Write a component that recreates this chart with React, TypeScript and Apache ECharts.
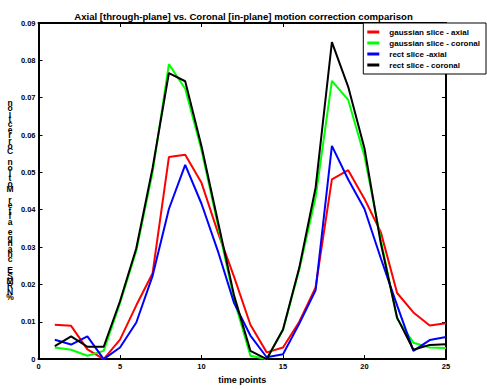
import React, { useEffect, useRef } from "react";
import * as echarts from "echarts";

const timePoints = [1, 2, 3, 4, 5, 6, 7, 8, 9, 10, 11, 12, 13, 14, 15, 16, 17, 18, 19, 20, 21, 22, 23, 24, 25];
const gaussianAxial = [0.0092, 0.0089, 0.0026, 0.0, 0.0052, 0.0144, 0.023, 0.0541, 0.0547, 0.0472, 0.034, 0.022, 0.0092, 0.0018, 0.0031, 0.01, 0.0192, 0.0481, 0.0506, 0.0429, 0.034, 0.0177, 0.0125, 0.009, 0.0096];
const gaussianCoronal = [0.0031, 0.0025, 0.0009, 0.0022, 0.015, 0.029, 0.05, 0.079, 0.0724, 0.056, 0.036, 0.016, 0.0009, 0.0, 0.0078, 0.024, 0.0433, 0.0745, 0.0694, 0.0543, 0.032, 0.0108, 0.0044, 0.0031, 0.003];
const rectAxial = [0.0052, 0.0039, 0.0061, 0.0, 0.0031, 0.0098, 0.0223, 0.0402, 0.052, 0.0416, 0.029, 0.015, 0.0063, 0.0005, 0.0013, 0.0095, 0.0184, 0.0571, 0.0481, 0.0402, 0.027, 0.0144, 0.0022, 0.0051, 0.0059];
const rectCoronal = [0.0035, 0.0061, 0.0033, 0.0033, 0.0155, 0.0297, 0.0512, 0.0766, 0.0744, 0.057, 0.037, 0.017, 0.0022, 0.0, 0.0079, 0.0245, 0.0459, 0.0849, 0.0729, 0.0564, 0.031, 0.0111, 0.0025, 0.0038, 0.004];

const seriesNames = ["gaussian slice - axial", "gaussian slice - coronal", "rect slice -axial", "rect slice - coronal"];
const seriesColors = ["#ff0000", "#00ff00", "#0000ff", "#000000"];
const seriesValues = [gaussianAxial, gaussianCoronal, rectAxial, rectCoronal];

const titleText = "Axial [through-plane] vs. Coronal [in-plane] motion correction comparison";
const xAxisTitle = "time points";
const yAxisTitle = "%NRMSE change after Motion Correction";

const FONT = "Liberation Sans, Arial, Helvetica, sans-serif";

export default function App() {
  const ref = useRef<HTMLDivElement>(null);
  useEffect(() => {
    if (!ref.current) return;
    const chart = echarts.init(ref.current, null, { renderer: "svg" });
    const yLabelStacked = yAxisTitle.split("").reverse().join("\n");
    const axisCommon = {
      type: "value" as const,
      axisLine: { show: true, onZero: false, lineStyle: { color: "#000", width: 2 } },
      axisTick: { show: true, inside: true, length: 4, lineStyle: { color: "#000", width: 1 } },
      splitLine: { show: false },
    };
    chart.setOption({
      animation: false,
      backgroundColor: "#fff",
      textStyle: { fontFamily: FONT },
      title: {
        text: titleText,
        left: "center",
        top: 6,
        textStyle: { fontSize: 9.6, fontWeight: "bold", color: "#000", fontFamily: FONT },
      },
      legend: {
        orient: "vertical",
        right: 1,
        top: 23,
        z: 10,
        backgroundColor: "#fff",
        borderColor: "#000",
        borderWidth: 1,
        padding: [4, 6, 4, 4],
        itemGap: 1,
        itemWidth: 12,
        itemHeight: 3,
        icon: "rect",
        textStyle: { fontSize: 8, fontWeight: "bold", color: "#000", fontFamily: FONT, lineHeight: 10, padding: [0, 0, 0, 5] },
        data: seriesNames,
      },
      grid: { left: 38.5, right: 41, top: 23, bottom: 24 },
      xAxis: [
        {
          ...axisCommon,
          position: "bottom",
          min: 0,
          max: 25,
          interval: 5,
          name: xAxisTitle,
          nameLocation: "middle",
          nameGap: 15,
          nameTextStyle: { fontSize: 9, fontWeight: "bold", color: "#000", fontFamily: FONT },
          axisLabel: { fontSize: 7.5, fontWeight: "bold", color: "#000", margin: 3, fontFamily: FONT },
        },
        {
          ...axisCommon,
          position: "top",
          min: 0,
          max: 25,
          interval: 5,
          axisLabel: { show: false },
        },
      ],
      yAxis: [
        {
          ...axisCommon,
          position: "left",
          min: 0,
          max: 0.09,
          interval: 0.01,
          axisLabel: {
            fontSize: 7.5,
            fontWeight: "bold",
            color: "#000",
            margin: 3,
            fontFamily: FONT,
            formatter: (v: number) => (Math.abs(v) < 1e-9 ? "0" : v.toFixed(2)),
          },
        },
        {
          ...axisCommon,
          position: "right",
          min: 0,
          max: 0.09,
          interval: 0.01,
          axisLabel: { show: false },
        },
      ],
      graphic: [
        {
          type: "text",
          x: 10,
          y: 100,
          style: {
            text: yLabelStacked,
            font: `bold 8.5px ${FONT}`,
            lineHeight: 5.4,
            fill: "#000",
            align: "center",
            verticalAlign: "top",
          },
        },
      ],
      series: seriesNames.map((name, i) => ({
        name,
        type: "line",
        xAxisIndex: 0,
        yAxisIndex: 0,
        showSymbol: false,
        symbol: "none",
        lineStyle: { color: seriesColors[i], width: 2 },
        itemStyle: { color: seriesColors[i] },
        data: timePoints.map((t, k) => [t, seriesValues[i][k]]),
      })),
    });
    return () => chart.dispose();
  }, []);
  return <div ref={ref} style={{ position: "fixed", left: 0, top: 0, width: 487, height: 389 }} />;
}
